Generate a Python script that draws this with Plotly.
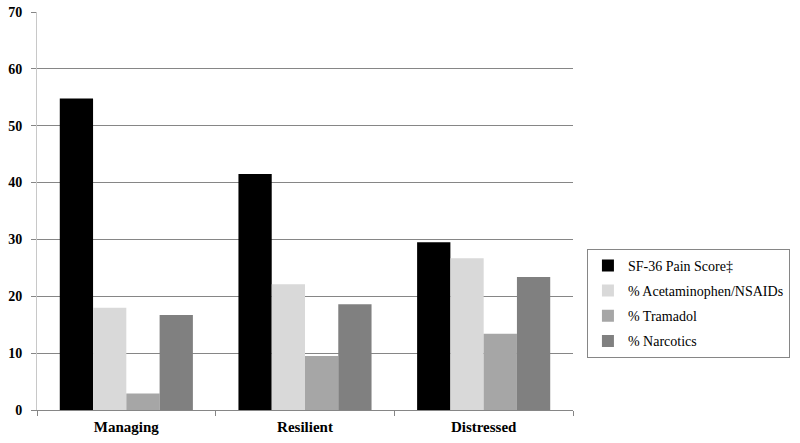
import plotly.graph_objects as go

categories = ["Managing", "Resilient", "Distressed"]
series_names = ["SF-36 Pain Score‡", "% Acetaminophen/NSAIDs", "% Tramadol", "% Narcotics"]
pain_score = [54.8, 41.5, 29.5]
acetaminophen = [18.0, 22.1, 26.7]
tramadol = [2.9, 9.5, 13.4]
narcotics = [16.7, 18.6, 23.4]
colors = ["#000000", "#d9d9d9", "#a6a6a6", "#808080"]
y_ticks = [0, 10, 20, 30, 40, 50, 60, 70]

font_family = "Liberation Serif"

fig = go.Figure()
for i, (name, vals) in enumerate(zip(series_names, [pain_score, acetaminophen, tramadol, narcotics])):
    fig.add_trace(go.Bar(
        x=categories, y=vals, name=name, marker_color=colors[i],
        marker_line_width=0, legendgroup=f"g{i}",
    ))

fig.update_layout(
    width=800, height=443,
    barmode="group", bargap=0.255, bargroupgap=0,
    plot_bgcolor="white", paper_bgcolor="white",
    margin=dict(l=37, r=227, t=12, b=33, autoexpand=False),
    font=dict(family=font_family, size=14, color="#000000"),
    legend=dict(
        x=1.026, y=0.405, xanchor="left", yanchor="top",
        bordercolor="#868686", borderwidth=1,
        font=dict(family=font_family, size=14, color="#000000", weight="normal"),
        tracegroupgap=4, itemwidth=30,
    ),
    xaxis=dict(
        showgrid=False, showline=True, linecolor="#868686", linewidth=1,
        ticks="outside", tickson="boundaries", ticklen=5, tickcolor="#868686",
        tickfont=dict(family=font_family, size=15, color="#000000", weight="bold"),
        ticklabelstandoff=3,
        automargin=False,
    ),
    yaxis=dict(
        range=[0, 70], tickvals=y_ticks, showgrid=True, gridcolor="#868686", gridwidth=1,
        showline=True, linecolor="#c8c8c8", linewidth=1,
        ticks="outside", ticklen=5, tickcolor="#868686",
        tickfont=dict(family=font_family, size=14, color="#000000", weight="bold"),
        ticklabelstandoff=6,
        zeroline=False, automargin=False,
    ),
)

fig.write_html(
    "out.html",
    config={"displayModeBar": False},
    post_script="document.body.style.margin='0';document.body.style.overflow='hidden';",
)
